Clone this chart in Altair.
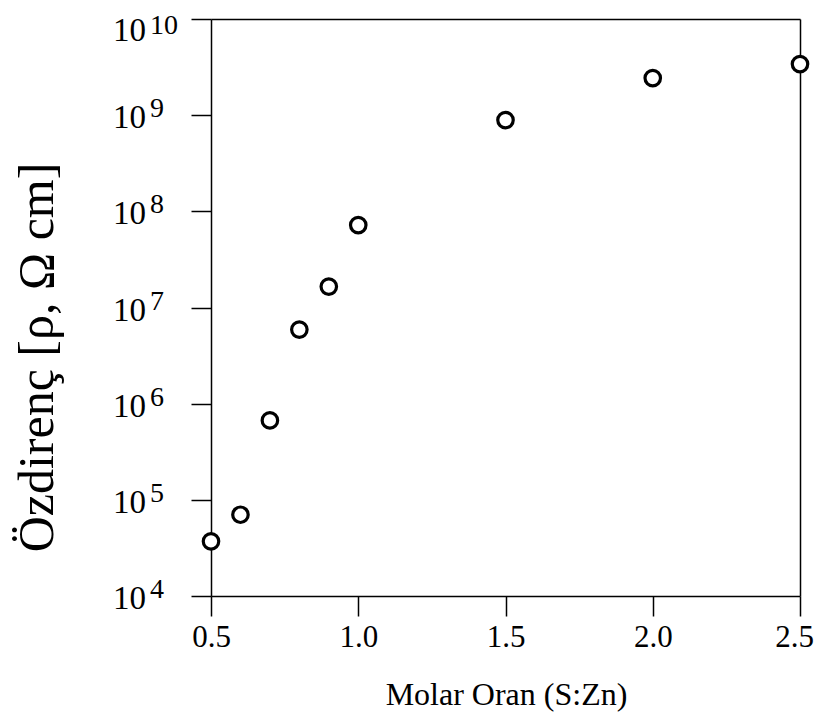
import altair as alt
import pandas as pd

# Data
ratio = [0.5, 0.6, 0.7, 0.8, 0.9, 1.0, 1.5, 2.0, 2.5]
resistivity = [3.7e4, 7.0e4, 6.7e5, 5.9e6, 1.65e7, 7.2e7, 8.9e8, 2.43e9, 3.4e9]

x_ticks = [0.5, 1.0, 1.5, 2.0, 2.5]
y_exponents = [4, 5, 6, 7, 8, 9, 10]

df = pd.DataFrame({"x": ratio, "rho": resistivity})
tdf = pd.DataFrame({
    "e": y_exponents,
    "val": [10.0 ** e for e in y_exponents],
    "base": ["10"] * len(y_exponents),
    "exp": [str(e) for e in y_exponents],
})

FONT = "Liberation Serif"
xscale = alt.Scale(domain=[0.5, 2.5], nice=False, zero=False)
yscale = alt.Scale(type="log", domain=[1e4, 1e10], nice=False)

points = alt.Chart(df).mark_point(
    shape="circle", fill="white", fillOpacity=1, stroke="black",
    strokeWidth=3.2, size=240, opacity=1
).encode(
    x=alt.X("x:Q", scale=xscale, axis=alt.Axis(
        values=x_ticks, format=".1f", tickSize=20, tickWidth=1.5,
        tickColor="black", domainColor="black", domainWidth=1.5,
        labelFont=FONT, labelFontSize=31, labelColor="black", labelPadding=6,
        labelFlush=False, labelOverlap=False,
        labelOffset={"condition": {"test": "datum.value == 2.5", "value": -6},
                     "value": 0},
        grid=False, title="Molar Oran (S:Zn)", titleFont=FONT,
        titleFontSize=32, titleFontWeight="normal", titleColor="black",
        titleX=295, titleY=98, titleBaseline="middle", titleAlign="center")),
    y=alt.Y("rho:Q", scale=yscale, axis=alt.Axis(
        values=[10.0 ** e for e in y_exponents], labels=False, tickSize=20,
        tickWidth=1.5, tickColor="black", domainColor="black", domainWidth=1.5,
        grid=False, title="Özdirenç [ρ, Ω cm]", titleFont=FONT,
        titleFontSize=50, titleFontWeight="normal", titleColor="black",
        titleAngle=-90, titleX=-174, titleY=338, titleBaseline="middle",
        titleAlign="center")),
)

frame = alt.Chart(df).mark_point(opacity=0).encode(
    x=alt.X("x:Q", scale=xscale, axis=alt.Axis(
        orient="top", labels=False, ticks=False, title=None, grid=False,
        domainColor="black", domainWidth=1.5)),
    y=alt.Y("rho:Q", scale=yscale, axis=alt.Axis(
        orient="right", labels=False, ticks=False, title=None, grid=False,
        domainColor="black", domainWidth=1.5)),
)

def base_layer(dy, cond):
    return alt.Chart(tdf).transform_filter(cond).mark_text(
        align="right", baseline="middle", font=FONT, fontSize=33,
        color="black", dy=dy
    ).encode(
        x=alt.value(-65),
        y=alt.Y("val:Q", scale=yscale, axis=None),
        text="base:N",
    )

def exp_layer(dy, cond):
    return alt.Chart(tdf).transform_filter(cond).mark_text(
        align="left", baseline="middle", font=FONT, fontSize=28,
        color="black", dy=dy
    ).encode(
        x=alt.value(-61),
        y=alt.Y("val:Q", scale=yscale, axis=None),
        text="exp:N",
    )

lab10 = base_layer(3, "datum.e < 10")
labexp = exp_layer(-6, "datum.e < 10")
lab10_top = base_layer(12, "datum.e == 10")
labexp_top = exp_layer(7, "datum.e == 10")

chart = alt.layer(frame, points, lab10, labexp, lab10_top, labexp_top).resolve_axis(
    x="independent", y="independent"
).properties(
    width=589, height=577,
    autosize=alt.AutoSizeParams(type="none"),
    padding={"left": 203, "top": 11, "right": 14, "bottom": 117},
    background="white",
).configure_view(stroke=None)

chart.save("out.html", embed_options={"renderer": "svg", "actions": False})
